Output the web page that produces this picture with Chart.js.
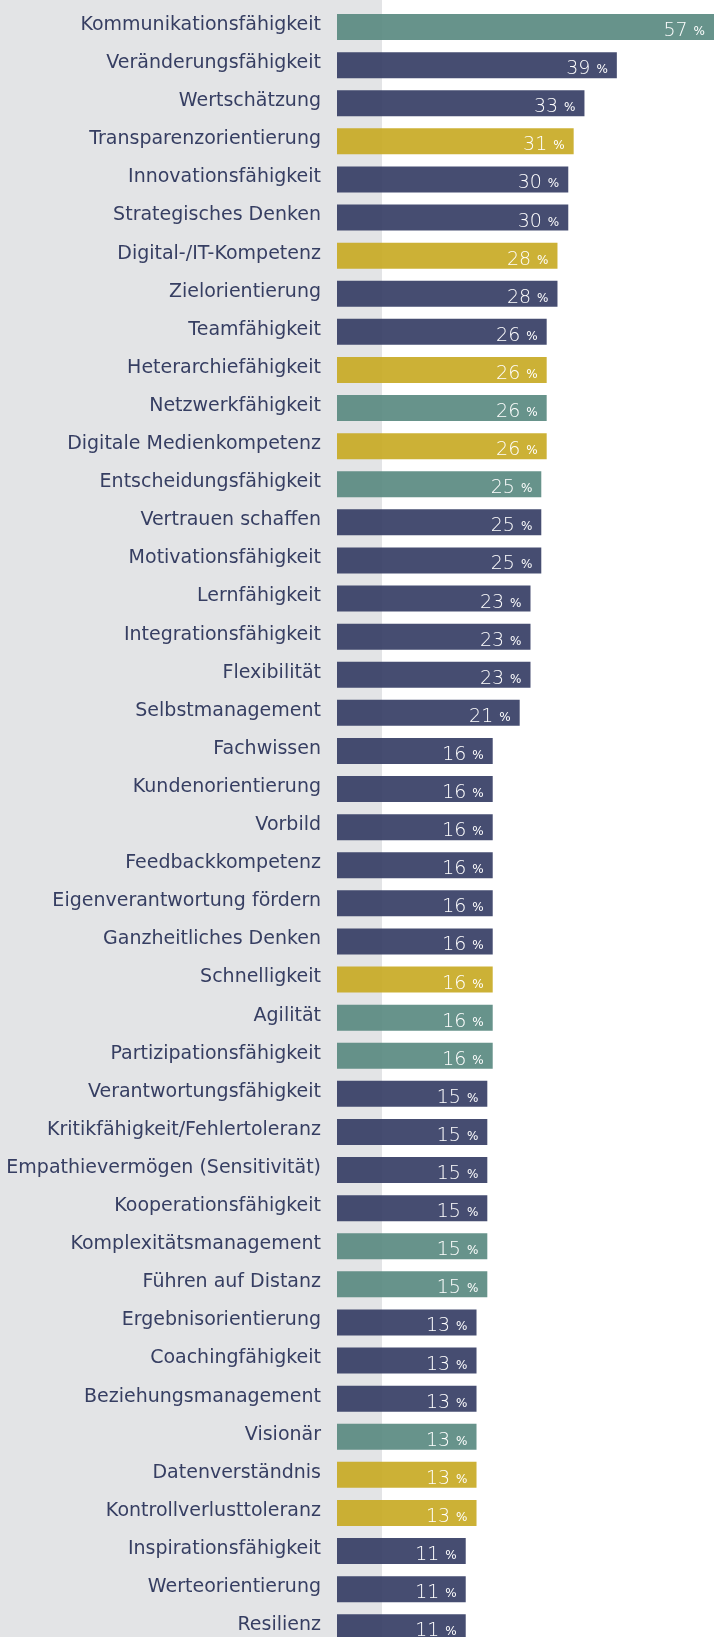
<!DOCTYPE html>
<html>
<head>
<meta charset="utf-8">
<script src="https://cdn.jsdelivr.net/npm/chart.js@4.4.1/dist/chart.umd.min.js"></script>
<style>
html,body{margin:0;padding:0;overflow:hidden;background:#ffffff;width:714px;height:1637px;}
#wrap{position:relative;width:714px;height:1647px;}
</style>
</head>
<body>
<div id="wrap"><canvas id="c"></canvas></div>
<script>
const categories = [
  "Kommunikationsfähigkeit","Veränderungsfähigkeit","Wertschätzung","Transparenzorientierung",
  "Innovationsfähigkeit","Strategisches Denken","Digital-/IT-Kompetenz","Zielorientierung",
  "Teamfähigkeit","Heterarchiefähigkeit","Netzwerkfähigkeit","Digitale Medienkompetenz",
  "Entscheidungsfähigkeit","Vertrauen schaffen","Motivationsfähigkeit","Lernfähigkeit",
  "Integrationsfähigkeit","Flexibilität","Selbstmanagement","Fachwissen",
  "Kundenorientierung","Vorbild","Feedbackkompetenz","Eigenverantwortung fördern",
  "Ganzheitliches Denken","Schnelligkeit","Agilität","Partizipationsfähigkeit",
  "Verantwortungsfähigkeit","Kritikfähigkeit/Fehlertoleranz","Empathievermögen (Sensitivität)","Kooperationsfähigkeit",
  "Komplexitätsmanagement","Führen auf Distanz","Ergebnisorientierung","Coachingfähigkeit",
  "Beziehungsmanagement","Visionär","Datenverständnis","Kontrollverlusttoleranz",
  "Inspirationsfähigkeit","Werteorientierung","Resilienz"
];
const values = [
  57,39,33,31,
  30,30,28,28,
  26,26,26,26,
  25,25,25,23,
  23,23,21,16,
  16,16,16,16,
  16,16,16,16,
  15,15,15,15,
  15,15,13,13,
  13,13,13,13,
  11,11,11
];
const groups = [
  "teal","navy","navy","yellow",
  "navy","navy","yellow","navy",
  "navy","yellow","teal","yellow",
  "teal","navy","navy","navy",
  "navy","navy","navy","navy",
  "navy","navy","navy","navy",
  "navy","yellow","teal","teal",
  "navy","navy","navy","navy",
  "teal","teal","navy","navy",
  "navy","teal","yellow","yellow",
  "navy","navy","navy"
];
const groupColors = { teal: "rgba(86,135,126,0.9)", navy: "rgba(50,58,98,0.9)", yellow: "rgba(199,168,32,0.9)" };
const axisMin = -12.85;
const axisMax = 57;

const panelPlugin = {
  id: "panel",
  beforeDraw(chart) {
    const ctx = chart.ctx;
    ctx.save();
    ctx.fillStyle = "#e3e4e6";
    ctx.fillRect(0, 0, 382, chart.height);
    ctx.restore();
  }
};

const valueLabelPlugin = {
  id: "valueLabels",
  afterDatasetsDraw(chart) {
    const ctx = chart.ctx;
    const meta = chart.getDatasetMeta(0);
    ctx.save();
    ctx.fillStyle = "#ffffff";
    ctx.textBaseline = "alphabetic";
    meta.data.forEach((bar, i) => {
      const right = bar.x - 9;
      const baseY = bar.y + 9;
      ctx.font = "12px 'DejaVu Sans'";
      ctx.textAlign = "right";
      ctx.fillText("%", right, baseY - 1);
      const pw = ctx.measureText("%").width;
      ctx.font = "300 19px 'DejaVu Sans'";
      ctx.fillText(String(values[i]), right - pw - 6, baseY);
    });
    ctx.restore();
  }
};

new Chart(document.getElementById("c"), {
  type: "bar",
  data: {
    labels: categories,
    datasets: [{
      data: values,
      base: axisMin,
      backgroundColor: groups.map(g => groupColors[g]),
      borderWidth: 0,
      categoryPercentage: 1,
      barPercentage: 0.682
    }]
  },
  options: {
    indexAxis: "y",
    responsive: true,
    maintainAspectRatio: false,
    animation: false,
    events: [],
    layout: { padding: { top: 8, bottom: 0.7, left: 0, right: 0 } },
    plugins: { legend: { display: false }, tooltip: { enabled: false } },
    scales: {
      x: { display: false, min: axisMin, max: axisMax },
      y: {
        grid: { display: false, drawTicks: false },
        border: { display: false },
        ticks: {
          color: "#363e62",
          font: { family: "'DejaVu Sans'", size: 19 },
          padding: 16,
          labelOffset: -2,
          autoSkip: false
        },
        afterFit(scale) {
          scale.width = 337;
          scale.paddingTop = 0;
          scale.paddingBottom = 0;
        }
      }
    }
  },
  plugins: [panelPlugin, valueLabelPlugin]
});
</script>
</body>
</html>
